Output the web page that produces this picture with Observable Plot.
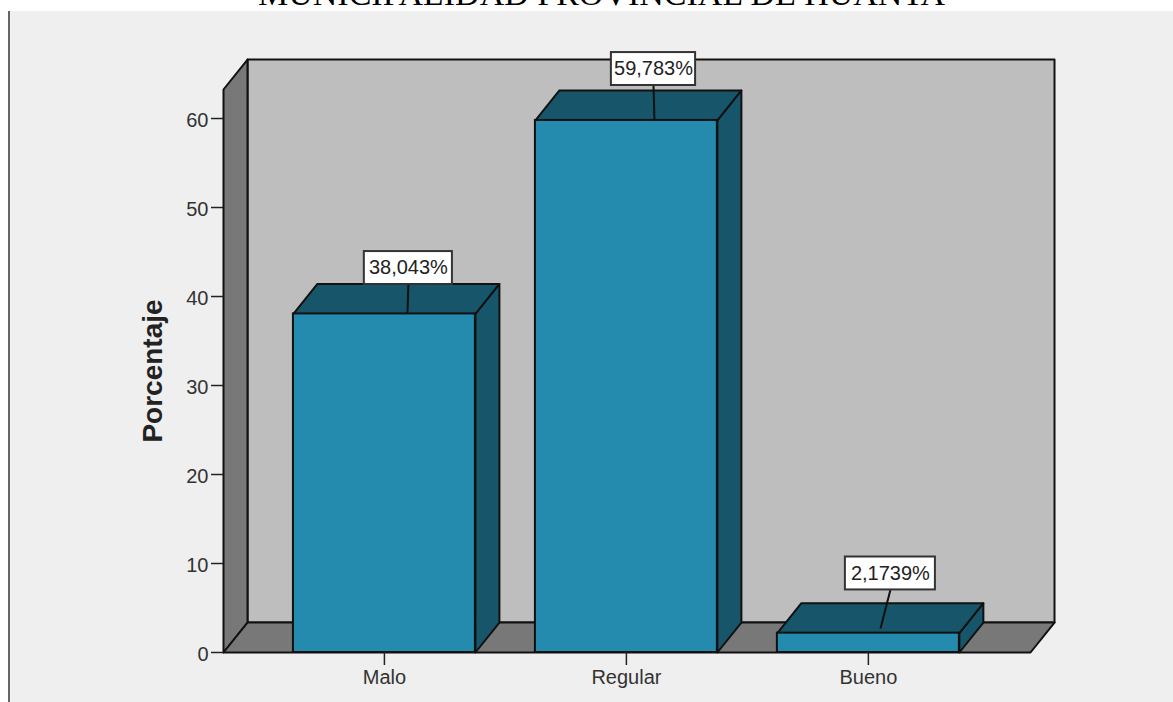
<!DOCTYPE html>
<html lang="es">
<head>
<meta charset="utf-8">
<script src="https://cdn.jsdelivr.net/npm/d3@7"></script>
<script src="https://cdn.jsdelivr.net/npm/@observablehq/plot@0.6"></script>
<style>
  html, body { margin: 0; background: #fff; overflow: hidden; }
  #page { position: relative; width: 1173px; height: 702px; overflow: hidden; }
  #panel { position: absolute; left: 8px; top: 11px; right: 0; bottom: 0; background: #efefef; border-left: 2px solid #666; }
  #title { position: absolute; left: 258px; top: -25px; font: 34px "Liberation Serif", serif; color: #000; white-space: nowrap; }
  #chart { position: absolute; left: 0; top: 0; }
  #chart svg { background: transparent; display: block; }
</style>
</head>
<body>
<div id="page">
  <div id="title">MUNICIPALIDAD PROVINCIAL DE HUANTA</div>
  <div id="panel"></div>
  <div id="chart"></div>
</div>
<script>
// Percentages per rating
const categories = ["Malo", "Regular", "Bueno"];
const values = [38.043, 59.783, 2.1739];
const valueLabels = ["38,043%", "59,783%", "2,1739%"];
const yTicks = [0, 10, 20, 30, 40, 50, 60];

// Callout boxes, in axis units: offset from the bar centre, half width, and where the leader lands
const labelOffsetX = [0.099, 0.112, 0.091];
const labelCentreY = [43.2, 65.56, 8.88];
const labelHalfWidth = [0.182, 0.174, 0.186];
const labelHalfHeight = 1.85;
const leaderOffsetX = [0.095, 0.116, 0.05];
const leaderFootY = [38.043, 59.783, 2.7];

// Box geometry in axis units: the oblique depth shared by the walls and bars
const barHalfWidth = 0.376;
const depthX = 0.0992;
const depthY = 3.37;
const xMin = -0.665, xMax = 2.67, yMax = 63.26;

const ink = "#111";
const wallColor = "#bebebe", sideColor = "#787878";
const barColor = "#248bae", barShade = "#17566a";

// Closed polygons as one row per vertex
const polygon = (id, pts) => pts.map(([x, y]) => ({id, x, y}));
const backWall = polygon("back", [[xMin + depthX, depthY], [xMax + depthX, depthY], [xMax + depthX, yMax + depthY], [xMin + depthX, yMax + depthY]]);
const leftWall = polygon("left", [[xMin, 0], [xMin + depthX, depthY], [xMin + depthX, yMax + depthY], [xMin, yMax]]);
const floor = polygon("floor", [[xMin, 0], [xMax, 0], [xMax + depthX, depthY], [xMin + depthX, depthY]]);

const bars = categories.map((name, i) => ({
  name, i, value: values[i],
  left: i - barHalfWidth, right: i + barHalfWidth
}));
const barTops = bars.flatMap(b => polygon(b.name, [[b.left, b.value], [b.right, b.value], [b.right + depthX, b.value + depthY], [b.left + depthX, b.value + depthY]]));
const barSides = bars.flatMap(b => polygon(b.name, [[b.right, 0], [b.right + depthX, depthY], [b.right + depthX, b.value + depthY], [b.right, b.value]]));

const callouts = categories.map((name, i) => {
  const cx = i + labelOffsetX[i];
  return {
    text: valueLabels[i],
    cx, cy: labelCentreY[i],
    x1: cx - labelHalfWidth[i], x2: cx + labelHalfWidth[i],
    y1: labelCentreY[i] - labelHalfHeight, y2: labelCentreY[i] + labelHalfHeight,
    footX: i + leaderOffsetX[i], footY: leaderFootY[i]
  };
});

const face = (data, fill) => Plot.line(data, {
  x: "x", y: "y", z: "id", curve: "linear-closed",
  fill, stroke: ink, strokeWidth: 2, strokeLinejoin: "round"
});

const chart = Plot.plot({
  width: 1173,
  height: 702,
  marginLeft: 223,
  marginRight: 143,
  marginTop: 89,
  marginBottom: 50,
  style: {background: "transparent", fontFamily: "'Liberation Sans', Arial, sans-serif"},
  x: {type: "linear", domain: [xMin, xMax]},
  y: {type: "linear", domain: [0, yMax]},
  marks: [
    face(backWall, wallColor),
    face(leftWall, sideColor),
    face(floor, sideColor),
    face(barSides, barShade),
    face(barTops, barShade),
    Plot.rect(bars, {x1: "left", x2: "right", y1: 0, y2: "value", fill: barColor, stroke: ink, strokeWidth: 2}),
    // Tick marks and their labels are separate so the numerals can sit slightly below each tick
    Plot.axisY({ticks: yTicks, tickSize: 12, text: null, stroke: "#222", strokeWidth: 1.5, label: null}),
    Plot.axisY({
      ticks: yTicks, tickSize: 0, tickPadding: 15, dy: 2, tickFormat: d => String(d),
      fontSize: 20, color: "#333", label: null
    }),
    Plot.axisX({
      ticks: categories.map((_, i) => i), tickSize: 13, tickPadding: 4, tickFormat: i => categories[i],
      fontSize: 20, color: "#333", stroke: "#222", strokeWidth: 1.5, label: null
    }),
    Plot.text(["Porcentaje"], {
      frameAnchor: "left", rotate: -90, dx: -70,
      fontSize: 28, fontWeight: "bold", fill: "#222", textAnchor: "middle"
    }),
    Plot.link(callouts, {x1: "footX", y1: "footY", x2: "cx", y2: "y1", stroke: ink, strokeWidth: 2}),
    Plot.rect(callouts, {x1: "x1", x2: "x2", y1: "y1", y2: "y2", fill: "#fff", stroke: "#333", strokeWidth: 2}),
    Plot.text(callouts, {x: "cx", y: "cy", text: "text", fontSize: 20, fill: "#222"})
  ]
});
document.getElementById("chart").append(chart);
</script>
</body>
</html>
